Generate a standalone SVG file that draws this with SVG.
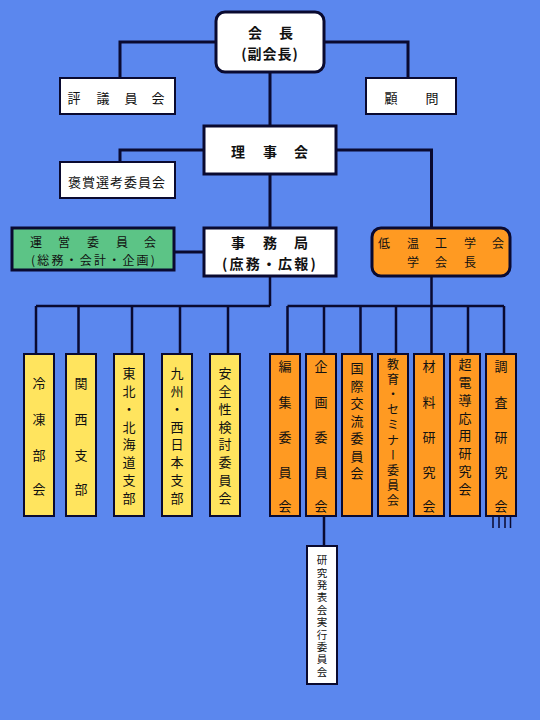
<svg xmlns="http://www.w3.org/2000/svg" width="540" height="720" viewBox="0 0 540 720">
<style>
text{font-family:"Noto Sans CJK JP","Noto Sans CJK SC",sans-serif;font-size:13px;fill:#111;text-anchor:middle;dominant-baseline:central}
.b{font-weight:bold;font-size:14px}
.box{stroke:#0a0a30;stroke-width:3}
.sm{stroke:#0a0a30;stroke-width:2}
.w{fill:#ffffff}
.y{fill:#ffe45e}
.o{fill:#ff9a22}
.g{fill:#5cc486}
.ln{fill:none;stroke:#0a0a30;stroke-width:3}
.ln2{fill:none;stroke:#0a0a30;stroke-width:2.5}
.t12{font-size:12px}
.v{writing-mode:vertical-rl}
.v8{letter-spacing:4.8px}
.v7{letter-spacing:4.5px}
.v10{font-size:12px;letter-spacing:3.1px}
.vs{font-size:10.5px;letter-spacing:1.9px}
</style>
<rect width="540" height="720" fill="#5b87ee"/>
<g id="connectors">
<path class="ln" d="M216 42H120V78M324 42H408V78M270 72V126M204 150H120V162M336 150H431.5V228M270 174V228M174 252H204"/>
<path class="ln2" d="M270 276V306M36 306H270M36 306V354M78.5 306V354M132 306V354M180 306V354M228 306V354"/>
<path class="ln2" d="M431.5 276V306M287.5 306H504M287.5 306V354M324 306V354M360.5 306V354M396 306V354M431.5 306V354M468 306V354M504 306V354M324 516V546"/>
<path fill="none" stroke="#0a0a30" stroke-width="1.5" d="M493 516V528M499 516V528M505 516V528M510.5 516V528"/>
</g>
<g id="kaicho"><rect class="box w" x="216" y="12" width="108" height="60" rx="9"/><text class="b"><tspan x="255" y="32">会</tspan><tspan x="286" y="32">長</tspan></text><text class="b" x="270" y="53" letter-spacing="1">(副会長)</text></g>
<g id="hyogiinkai"><rect class="sm w" x="60" y="78" width="115" height="36"/><text><tspan x="74" y="97">評</tspan><tspan x="103" y="97">議</tspan><tspan x="131" y="97">員</tspan><tspan x="158" y="97">会</tspan></text></g>
<g id="komon"><rect class="sm w" x="366" y="78" width="90" height="36"/><text><tspan x="391" y="97">顧</tspan><tspan x="432" y="97">問</tspan></text></g>
<g id="rijikai"><rect class="box w" x="204" y="126" width="132" height="48"/><text class="b"><tspan x="238" y="151">理</tspan><tspan x="270" y="151">事</tspan><tspan x="301" y="151">会</tspan></text></g>
<g id="hosho"><rect class="sm w" x="60" y="162" width="115" height="36"/><text x="117" y="181" letter-spacing="1">褒賞選考委員会</text></g>
<g id="unei"><rect class="box g" x="12" y="228" width="162" height="42"/><text class="t12"><tspan x="36" y="241">運</tspan><tspan x="64" y="241">営</tspan><tspan x="93" y="241">委</tspan><tspan x="122" y="241">員</tspan><tspan x="150" y="241">会</tspan></text><text class="t12" x="94" y="259.5" letter-spacing="2.2">(総務・会計・企画)</text></g>
<g id="jimukyoku"><rect class="box w" x="204" y="228" width="132" height="48"/><text class="b"><tspan x="238" y="242">事</tspan><tspan x="270" y="242">務</tspan><tspan x="301" y="242">局</tspan></text><text class="b" x="270" y="263" letter-spacing="2.2">(庶務・広報)</text></g>
<g id="teion"><rect class="box o" x="372" y="228" width="138" height="48" rx="9"/><text class="t12"><tspan x="384" y="242">低</tspan><tspan x="413" y="242">温</tspan><tspan x="441" y="242">工</tspan><tspan x="470" y="242">学</tspan><tspan x="498" y="242">会</tspan></text><text class="t12"><tspan x="413" y="261">学</tspan><tspan x="441" y="261">会</tspan><tspan x="470" y="261">長</tspan></text></g>
<g id="reito"><rect class="sm y" x="24" y="354" width="30" height="162"/><text><tspan x="39" y="382">冷</tspan><tspan x="39" y="418">凍</tspan><tspan x="39" y="454">部</tspan><tspan x="39" y="488">会</tspan></text></g>
<g id="kansai"><rect class="sm y" x="66" y="354" width="30" height="162"/><text><tspan x="81" y="382">関</tspan><tspan x="81" y="418">西</tspan><tspan x="81" y="454">支</tspan><tspan x="81" y="488">部</tspan></text></g>
<g id="tohoku"><rect class="sm y" x="114" y="354" width="30" height="162"/><text class="v v8" x="129" y="438">東北・北海道支部</text></g>
<g id="kyushu"><rect class="sm y" x="162" y="354" width="30" height="162"/><text class="v v8" x="177" y="438">九州・西日本支部</text></g>
<g id="anzen"><rect class="sm y" x="210" y="354" width="30" height="162"/><text class="v v8" x="225" y="438">安全性検討委員会</text></g>
<g id="henshu"><rect class="sm o" x="270" y="354" width="30" height="162"/><text><tspan x="285" y="365">編</tspan><tspan x="285" y="401">集</tspan><tspan x="285" y="436">委</tspan><tspan x="285" y="471">員</tspan><tspan x="285" y="505">会</tspan></text></g>
<g id="kikaku"><rect class="sm o" x="306" y="354" width="30" height="162"/><text><tspan x="321" y="365">企</tspan><tspan x="321" y="401">画</tspan><tspan x="321" y="436">委</tspan><tspan x="321" y="471">員</tspan><tspan x="321" y="505">会</tspan></text></g>
<g id="kokusai"><rect class="sm o" x="342" y="354" width="30" height="162"/><text class="v v7" x="357" y="423">国際交流委員会</text></g>
<g id="kyoiku"><rect class="sm o" x="378" y="354" width="30" height="162"/><text class="v v10" x="393" y="434">教育・セミナー委員会</text></g>
<g id="zairyo"><rect class="sm o" x="414" y="354" width="30" height="162"/><text><tspan x="429" y="365">材</tspan><tspan x="429" y="401">料</tspan><tspan x="429" y="436">研</tspan><tspan x="429" y="471">究</tspan><tspan x="429" y="505">会</tspan></text></g>
<g id="chodendo"><rect class="sm o" x="450" y="354" width="30" height="162"/><text class="v v8" x="465" y="429">超電導応用研究会</text></g>
<g id="chosa"><rect class="sm o" x="486" y="354" width="30" height="162"/><text><tspan x="501" y="365">調</tspan><tspan x="501" y="401">査</tspan><tspan x="501" y="436">研</tspan><tspan x="501" y="471">究</tspan><tspan x="501" y="505">会</tspan></text></g>
<g id="kenkyuhappyo"><rect class="sm w" x="307" y="546" width="30" height="138"/><text class="v vs" x="322" y="617">研究発表会実行委員会</text></g>
</svg>
